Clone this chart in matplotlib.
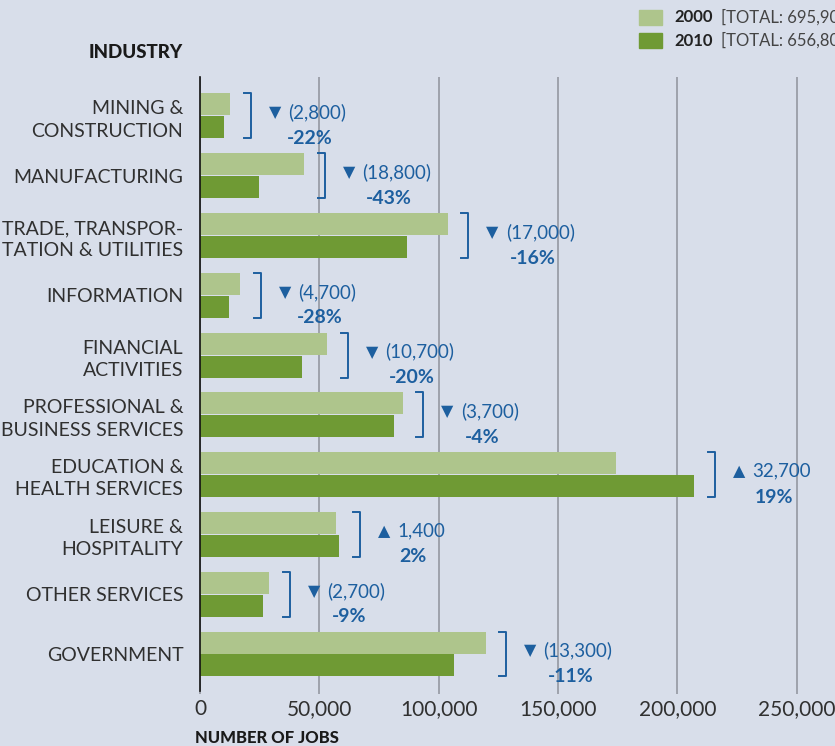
import numpy as np
import matplotlib.pyplot as plt
from matplotlib.patches import Rectangle

plt.rcParams['font.family'] = ['Lato', 'DejaVu Sans']

# data
industries = ['MINING &\nCONSTRUCTION', 'MANUFACTURING', 'TRADE, TRANSPOR-\nTATION & UTILITIES',
              'INFORMATION', 'FINANCIAL\nACTIVITIES', 'PROFESSIONAL &\nBUSINESS SERVICES',
              'EDUCATION &\nHEALTH SERVICES', 'LEISURE &\nHOSPITALITY', 'OTHER SERVICES', 'GOVERNMENT']
jobs_2000 = [12700, 43700, 103800, 16800, 53400, 84900, 174400, 56900, 29100, 119600]
jobs_2010 = [9900, 24900, 86800, 12100, 42700, 81200, 207100, 58300, 26400, 106300]
years = ['2000', '2010']
totals = ['695,900', '656,800']
xticks = [0, 50000, 100000, 150000, 200000, 250000]

bg = '#d8deea'
c2000 = '#aec58c'
c2010 = '#6f9a34'
blue = '#1d5f9f'
label_col = '#303030'
grid_col = '#9ea2ac'

fig = plt.figure(figsize=(8.35, 7.46), dpi=100, facecolor=bg)
ax = fig.add_axes([200 / 835, 1 - 690.7 / 746, 635 / 835, (690.7 - 77) / 746])
ax.set_facecolor(bg)

y = np.arange(len(industries))
h = 0.368
off = 0.192
ax.barh(y - off, jobs_2000, height=h, color=c2000, zorder=3)
ax.barh(y + off, jobs_2010, height=h, color=c2010, zorder=3)

ax.set_xlim(0, 266000)
ax.set_ylim(9.614, -0.652)
ax.set_xticks(xticks, [f'{v:,}' for v in xticks])
ax.set_yticks(y, industries)
for lab in ax.get_yticklabels():
    lab.set_linespacing(1.38)
ax.xaxis.grid(True, color=grid_col, linewidth=1.4)
ax.set_axisbelow(True)
ax.tick_params(axis='y', length=0, pad=12, labelsize=14, labelcolor=label_col)
ax.tick_params(axis='x', length=2, width=1.4, color=grid_col, pad=4,
               labelsize=15, labelcolor=label_col)
for s in ['top', 'right', 'bottom']:
    ax.spines[s].set_visible(False)
ax.spines['left'].set_color('#111111')
ax.spines['left'].set_linewidth(1.2)
ax.spines['left'].set_zorder(4)

# brackets and change labels
renderer = fig.canvas.get_renderer()
to_px = ax.transData.transform
to_data = ax.transData.inverted().transform
for i in range(len(industries)):
    a, b = jobs_2000[i], jobs_2010[i]
    top = max(a, b)
    change = b - a
    pct = round(change / a * 100)
    xp, yc = to_px((top, i))
    _, yt = to_px((top, i - off - h / 2))
    _, yb = to_px((top, i + off + h / 2))
    bx = xp + 20.5
    pts = to_data([(bx - 7, yt), (bx, yt), (bx, yb), (bx - 7, yb)])
    ax.plot(pts[:, 0], pts[:, 1], color=blue, linewidth=1.4, clip_on=False, zorder=5)

    arrow = '▲' if change > 0 else '▼'
    num = f'{change:,}' if change > 0 else f'({-change:,})'
    t1 = ax.annotate(arrow, xy=(top, i), xytext=(20.5 + 18, 3), textcoords='offset pixels',
                     ha='left', va='center', color=blue, fontsize=11.5, family='DejaVu Sans')
    t2 = ax.annotate(num, xy=(top, i), xytext=(20.5 + 37.5, 3.5), textcoords='offset pixels',
                     ha='left', va='center', color=blue, fontsize=13.5)
    e1 = t1.get_window_extent(renderer)
    e2 = t2.get_window_extent(renderer)
    cx = (e1.x0 + e2.x1) / 2 + 2
    pos = to_data((cx, yc + 3.5 - 26))
    ax.text(pos[0], pos[1], f'{pct}%', ha='center', va='center',
            color=blue, fontsize=14, fontweight='bold')

# headers
fig.text(183 / 835, 1 - 53 / 746, 'INDUSTRY', ha='right', va='center',
         fontsize=13.5, fontweight='black', color='#1a1a1a')
fig.text(195 / 835, 1 - 738 / 746, 'NUMBER OF JOBS', ha='left', va='center',
         fontsize=12, fontweight='black', color='#1a1a1a')

# legend
for k, (yr, tot, col) in enumerate(zip(years, totals, [c2000, c2010])):
    yc = 17.5 + 23 * k
    fig.patches.append(Rectangle((639 / 835, 1 - (yc + 7) / 746), 23 / 835, 14 / 746,
                                 transform=fig.transFigure, color=col))
    fig.text(674 / 835, 1 - yc / 746, yr, ha='left', va='center',
             fontsize=12, fontweight='bold', color='#222222')
    fig.text(721 / 835, 1 - yc / 746, f'[TOTAL: {tot}]', ha='left', va='center',
             fontsize=12, color='#444444')

fig.savefig('out.png', dpi=100, facecolor=bg)
